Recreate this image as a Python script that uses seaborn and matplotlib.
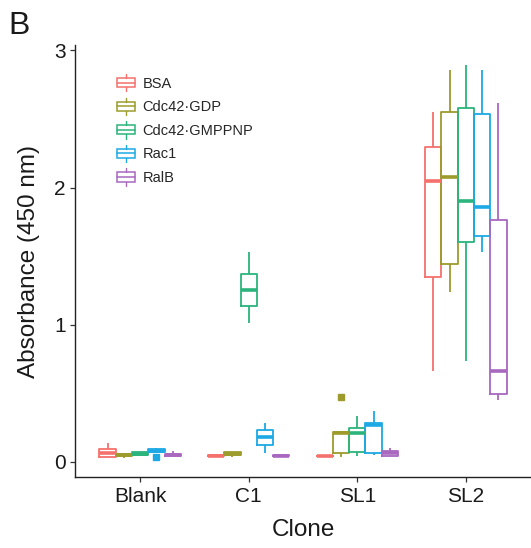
import numpy as np
import pandas as pd
import seaborn as sns
import matplotlib
matplotlib.use("Agg")
import matplotlib.pyplot as plt
from matplotlib.patches import Rectangle
from matplotlib.lines import Line2D
from matplotlib.legend_handler import HandlerBase

# ---- data (absorbance readings; 5 per clone) ----
clones = ["Blank", "C1", "SL1", "SL2"]
proteins = ["BSA", "Cdc42·GDP", "Cdc42·GMPPNP", "Rac1", "RalB"]

bsa = [[0.034, 0.034, 0.066, 0.093, 0.136],
       [0.040, 0.044, 0.046, 0.048, 0.050],
       [0.040, 0.042, 0.044, 0.046, 0.048],
       [0.660, 1.350, 2.045, 2.295, 2.550]]
cdc42_gdp = [[0.030, 0.040, 0.050, 0.060, 0.062],
             [0.039, 0.052, 0.060, 0.072, 0.075],
             [0.039, 0.068, 0.210, 0.216, 0.470],
             [1.240, 1.440, 2.074, 2.553, 2.860]]
cdc42_gmppnp = [[0.048, 0.050, 0.058, 0.070, 0.072],
                [1.010, 1.140, 1.252, 1.371, 1.527],
                [0.046, 0.075, 0.209, 0.250, 0.338],
                [0.737, 1.600, 1.904, 2.580, 2.896]]
rac1 = [[0.036, 0.072, 0.083, 0.093, 0.100],
        [0.063, 0.124, 0.185, 0.233, 0.282],
        [0.051, 0.063, 0.270, 0.284, 0.372],
        [1.534, 1.648, 1.862, 2.540, 2.860]]
ralb = [[0.038, 0.042, 0.050, 0.058, 0.078],
        [0.040, 0.042, 0.045, 0.050, 0.052],
        [0.042, 0.042, 0.063, 0.083, 0.100],
        [0.452, 0.494, 0.666, 1.765, 2.616]]

palette = ["#F4716C", "#9C9B2C", "#2BB47B", "#1DA9E4", "#A868BF"]

rows = []
for prot, series in zip(proteins, [bsa, cdc42_gdp, cdc42_gmppnp, rac1, ralb]):
    for clone, vals in zip(clones, series):
        for v in vals:
            rows.append({"Clone": clone, "Protein": prot, "Absorbance": v})
df = pd.DataFrame(rows)

# ---- style ----
sns.set_style("white")
plt.rcParams["font.family"] = ["Liberation Sans", "DejaVu Sans"]

W, H = 531, 548
fig = plt.figure(figsize=(W / 100, H / 100), dpi=100)
ax = fig.add_axes([75 / W, 1 - 477 / H, (W - 75) / W, (477 - 45) / H])

sns.boxplot(data=df, x="Clone", y="Absorbance", hue="Protein",
            order=clones, hue_order=proteins, palette=palette,
            fill=False, width=0.75, gap=0, showcaps=False,
            linewidth=1.3, whis=1.5,
            medianprops=dict(linewidth=2.6),
            flierprops=dict(marker="s", markersize=4.5),
            legend=True, ax=ax)

# filled square outliers
for ln in ax.lines:
    if ln.get_marker() == "s":
        ln.set_markerfacecolor(ln.get_markeredgecolor())

ax.set_xlim(-0.6, 3.6)
ax.set_ylim(-0.11, 3.04)
ax.set_yticks([0, 1, 2, 3])
ax.set_yticklabels(["0", "1", "2", "3"])

for s in ["top", "right"]:
    ax.spines[s].set_visible(False)
for s in ["left", "bottom"]:
    ax.spines[s].set_color("#222222")
    ax.spines[s].set_linewidth(1.0)
ax.tick_params(axis="both", which="major", length=3.5, width=0.9,
               color="#333333", labelsize=15, labelcolor="#1a1a1a",
               direction="out", bottom=True, left=True)
ax.tick_params(axis="y", pad=3)
ax.tick_params(axis="x", pad=4)

ax.set_xlabel("Clone", fontsize=17.5, color="#1a1a1a", labelpad=9)
ax.set_ylabel("Absorbance (450 nm)", fontsize=17.5, color="#1a1a1a", labelpad=10)

fig.text(8 / W, 1 - 34 / H, "B", fontsize=23, color="#1a1a1a", va="baseline", ha="left")


# ---- legend with small boxplot glyphs ----
class BoxHandler(HandlerBase):
    def create_artists(self, legend, orig_handle, xdescent, ydescent,
                       width, height, fontsize, trans):
        c = orig_handle.get_edgecolor()
        x0 = -xdescent
        y0 = -ydescent
        bh = height * 0.62
        by = y0 + (height - bh) / 2
        rect = Rectangle((x0, by), width, bh, fill=False, edgecolor=c,
                         linewidth=1.1, transform=trans)
        xc = x0 + width / 2
        med = Line2D([x0, x0 + width], [y0 + height / 2] * 2, color=c,
                     linewidth=1.1, transform=trans)
        w1 = Line2D([xc, xc], [by + bh, y0 + height * 1.08], color=c,
                    linewidth=1.0, transform=trans)
        w2 = Line2D([xc, xc], [by, y0 - height * 0.08], color=c,
                    linewidth=1.0, transform=trans)
        return [rect, med, w1, w2]


handles, labels = ax.get_legend_handles_labels()
ax.legend(handles, labels, loc="upper left", bbox_to_anchor=(0.092, 0.93),
          frameon=False, fontsize=10.5, borderpad=0, borderaxespad=0,
          handlelength=1.25, handleheight=1.2, handletextpad=0.5,
          labelspacing=0.56,
          handler_map={type(h): BoxHandler() for h in handles})

fig.savefig("out.png", dpi=100)
